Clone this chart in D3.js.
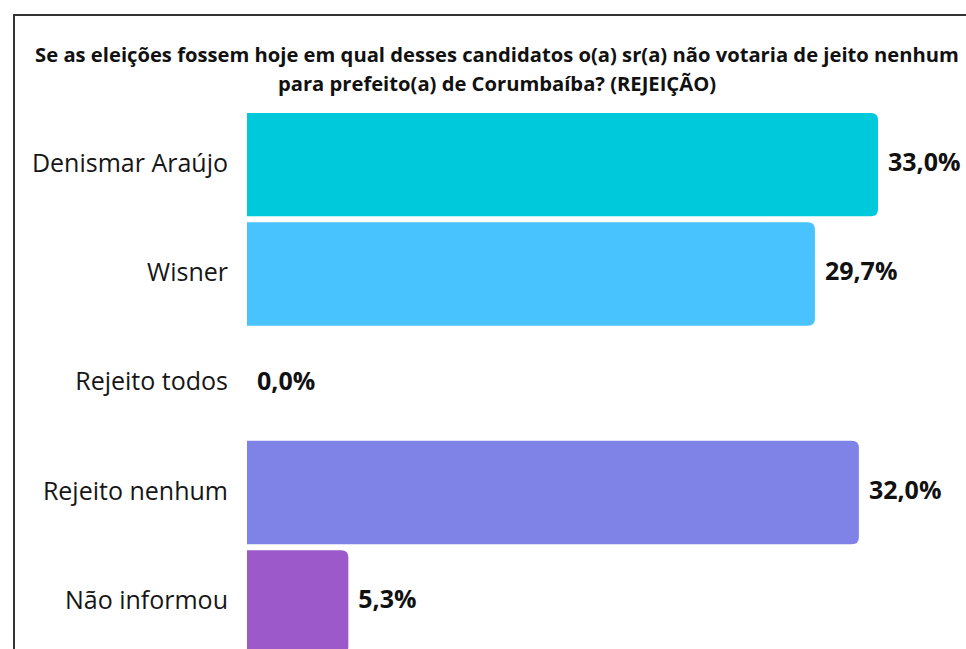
<!DOCTYPE html>
<html>
  <head>
    <meta charset="utf-8" />
    <title>Rejeição - Corumbaíba</title>
    <script src="https://cdnjs.cloudflare.com/ajax/libs/d3/7.8.5/d3.min.js"></script>
    <style>
      body {
        margin: 0;
        background: #ffffff;
        font-family: "Open Sans", "Noto Sans", sans-serif;
      }
      .frame {
        stroke: #333333;
        stroke-width: 2px;
        fill: none;
      }
      .title {
        font-weight: 700;
        font-size: 20.2px;
        fill: #111111;
      }
      .cat-label {
        font-size: 25px;
        fill: #161616;
      }
      .value-label {
        font-weight: 700;
        font-size: 25px;
        fill: #111111;
      }
    </style>
  </head>
  <body>
    <svg id="chart" width="966" height="649"></svg>
    <script>
      const width = 966;
      const height = 649;

      // Chart data
      const categories = [
        "Denismar Araújo",
        "Wisner",
        "Rejeito todos",
        "Rejeito nenhum",
        "Não informou",
      ];
      const values = [33.0, 29.7, 0.0, 32.0, 5.3];
      const barColors = ["#00c9dc", "#48c3fd", "#7fbfff", "#7f82e6", "#9b59ca"];
      const titleLines = [
        "Se as eleições fossem hoje em qual desses candidatos o(a) sr(a) não votaria de jeito nenhum",
        "para prefeito(a) de Corumbaíba? (REJEIÇÃO)",
      ];

      const data = categories.map((c, i) => ({
        category: c,
        value: values[i],
        color: barColors[i],
      }));

      const svg = d3.select("#chart");

      // frame: only top and left edges are visible in the crop
      svg
        .append("path")
        .attr("class", "frame")
        .attr("d", `M14,${height} L14,15 L${width},15`);

      // Title
      svg
        .append("g")
        .selectAll("text")
        .data(titleLines)
        .enter()
        .append("text")
        .attr("class", "title")
        .attr("x", 497)
        .attr("y", (d, i) => 61.5 + i * 29)
        .attr("text-anchor", "middle")
        .text((d) => d);

      // Scales
      const x = d3
        .scaleLinear()
        .domain([0, d3.max(values)])
        .range([247, 878]);

      const y = d3
        .scaleBand()
        .domain(categories)
        .range([110, 656.5])
        .paddingInner(0.054)
        .paddingOuter(0.027);

      // bar with rounded right corners only
      const r = 7;
      function barPath(d) {
        const x0 = x(0);
        const x1 = x(d.value);
        const y0 = y(d.category);
        const y1 = y0 + y.bandwidth();
        const rr = Math.min(r, (x1 - x0) / 2);
        return `M${x0},${y0}
          L${x1 - rr},${y0}
          Q${x1},${y0} ${x1},${y0 + rr}
          L${x1},${y1 - rr}
          Q${x1},${y1} ${x1 - rr},${y1}
          L${x0},${y1} Z`;
      }

      svg
        .append("g")
        .selectAll("path")
        .data(data.filter((d) => d.value > 0))
        .enter()
        .append("path")
        .attr("d", barPath)
        .attr("fill", (d) => d.color);

      // Category labels
      svg
        .append("g")
        .selectAll("text")
        .data(data)
        .enter()
        .append("text")
        .attr("class", "cat-label")
        .attr("x", 228)
        .attr("y", (d) => y(d.category) + y.bandwidth() / 2)
        .attr("dy", "0.28em")
        .attr("text-anchor", "end")
        .text((d) => d.category);

      // Value labels
      const fmt = (v) => v.toFixed(1).replace(".", ",") + "%";
      svg
        .append("g")
        .selectAll("text")
        .data(data)
        .enter()
        .append("text")
        .attr("class", "value-label")
        .attr("x", (d) => x(d.value) + 10)
        .attr("y", (d) => y(d.category) + y.bandwidth() / 2)
        .attr("dy", "0.25em")
        .text((d) => fmt(d.value));
    </script>
  </body>
</html>
